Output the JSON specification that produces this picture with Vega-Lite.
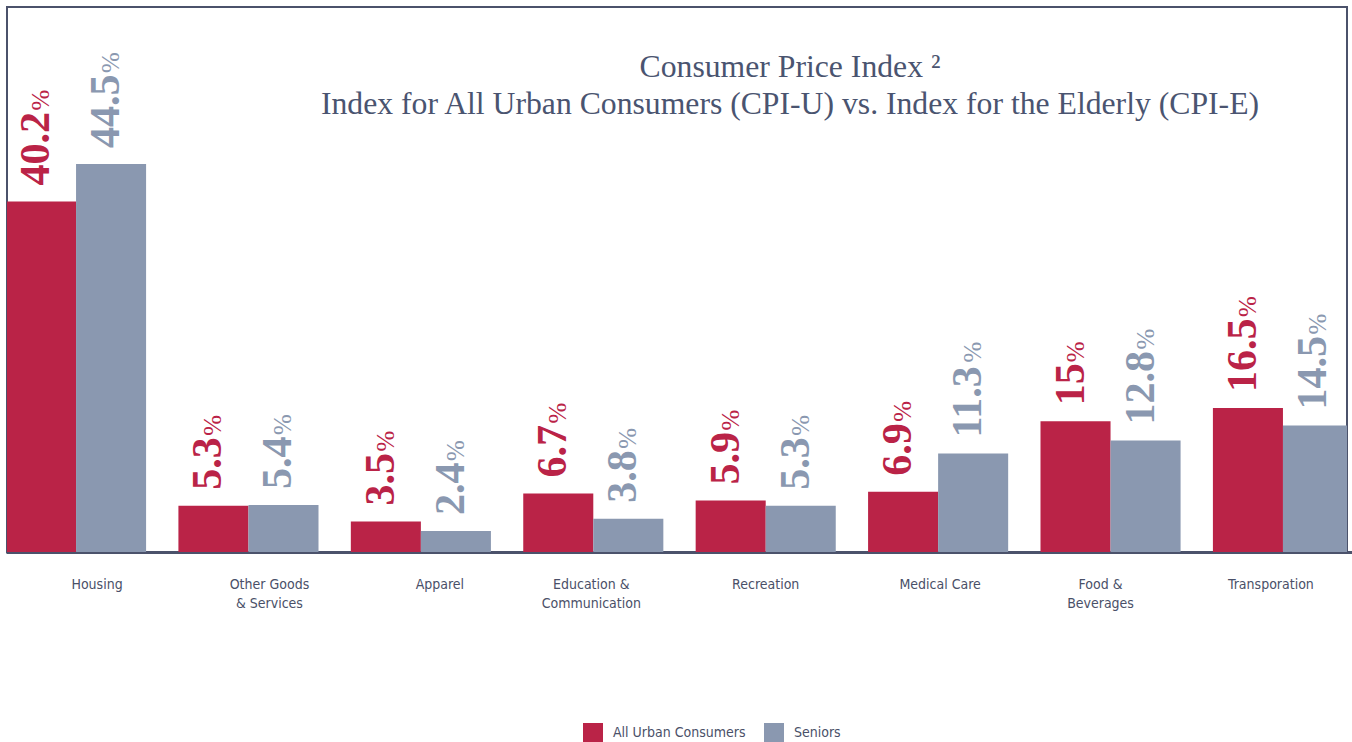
{
  "$schema": "https://vega.github.io/schema/vega-lite/v6.json",
  "width": 1340,
  "height": 545,
  "autosize": {"type": "none"},
  "padding": {"left": 7, "top": 7, "right": 5, "bottom": 190},
  "background": "white",
  "config": {"view": {"stroke": "#4b526b", "strokeWidth": 2}},
  "title": {
    "text": ["Consumer Price Index ²", "Index for All Urban Consumers (CPI-U) vs. Index for the Elderly (CPI-E)"],
    "font": "Liberation Serif",
    "fontSize": 31.7,
    "fontWeight": "normal",
    "color": "#4a5470",
    "anchor": "middle",
    "frame": "group",
    "offset": 0,
    "baseline": "alphabetic",
    "lineHeight": 37,
    "dx": 113,
    "dy": 139
  },
  "data": {"values": [
    {"category": "Housing", "series": "All Urban Consumers", "value": 40.2},
    {"category": "Housing", "series": "Seniors", "value": 44.5},
    {"category": "Other Goods|& Services", "series": "All Urban Consumers", "value": 5.3},
    {"category": "Other Goods|& Services", "series": "Seniors", "value": 5.4},
    {"category": "Apparel", "series": "All Urban Consumers", "value": 3.5},
    {"category": "Apparel", "series": "Seniors", "value": 2.4},
    {"category": "Education &|Communication", "series": "All Urban Consumers", "value": 6.7},
    {"category": "Education &|Communication", "series": "Seniors", "value": 3.8},
    {"category": "Recreation", "series": "All Urban Consumers", "value": 5.9},
    {"category": "Recreation", "series": "Seniors", "value": 5.3},
    {"category": "Medical Care", "series": "All Urban Consumers", "value": 6.9},
    {"category": "Medical Care", "series": "Seniors", "value": 11.3},
    {"category": "Food &|Beverages", "series": "All Urban Consumers", "value": 15},
    {"category": "Food &|Beverages", "series": "Seniors", "value": 12.8},
    {"category": "Transporation", "series": "All Urban Consumers", "value": 16.5},
    {"category": "Transporation", "series": "Seniors", "value": 14.5}
  ]},
  "encoding": {
    "x": {
      "field": "category",
      "type": "nominal",
      "sort": ["Housing", "Other Goods|& Services", "Apparel", "Education &|Communication", "Recreation", "Medical Care", "Food &|Beverages", "Transporation"],
      "scale": {"range": [-1, 1346], "paddingInner": 0.1875, "paddingOuter": 0},
      "title": null,
      "axis": {
        "labelExpr": "split(datum.label, '|')",
        "labelAngle": 0,
        "labelFont": "Liberation Sans Narrow, DejaVu Sans Condensed, sans-serif",
        "labelFontSize": 14,
        "labelColor": "#4a5068",
        "labelLineHeight": 19,
        "labelBaseline": "top",
        "labelPadding": 25,
        "labelOffset": {
          "condition": [
            {"test": "datum.value == 'Housing'", "value": 21},
            {"test": "datum.value == 'Other Goods|& Services'", "value": 21},
            {"test": "datum.value == 'Apparel'", "value": 19},
            {"test": "datum.value == 'Education &|Communication'", "value": -2},
            {"test": "datum.value == 'Medical Care'", "value": 2},
            {"test": "datum.value == 'Food &|Beverages'", "value": -10},
            {"test": "datum.value == 'Transporation'", "value": -12}
          ],
          "value": 0
        },
        "ticks": false,
        "grid": false,
        "domain": true,
        "domainColor": "#4b526b",
        "domainWidth": 3
      }
    },
    "xOffset": {
      "field": "series",
      "type": "nominal",
      "sort": ["All Urban Consumers", "Seniors"],
      "scale": {"paddingInner": 0, "paddingOuter": 0}
    },
    "y": {"field": "value", "type": "quantitative", "scale": {"domain": [0, 62.5]}, "axis": null},
    "color": {
      "field": "series",
      "type": "nominal",
      "sort": ["All Urban Consumers", "Seniors"],
      "scale": {"domain": ["All Urban Consumers", "Seniors"], "range": ["#ba2347", "#8a98b0"]},
      "legend": {
        "title": null,
        "orient": "none",
        "direction": "horizontal",
        "legendX": 576,
        "legendY": 716,
        "padding": 0,
        "symbolType": "square",
        "symbolSize": 400,
        "symbolStrokeWidth": 0,
        "symbolOpacity": 1,
        "labelFont": "Liberation Sans Narrow, DejaVu Sans Condensed, sans-serif",
        "labelFontSize": 14,
        "labelColor": "#4a5068",
        "labelOffset": 10,
        "columnPadding": 18
      }
    }
  },
  "layer": [
    {"mark": {"type": "bar", "clip": true}},
    {
      "mark": {"type": "text", "angle": 270, "align": "left", "baseline": "alphabetic", "dx": 16, "dy": 8, "font": "Liberation Serif", "fontWeight": "bold", "fontSize": 42},
      "encoding": {"text": {"field": "value", "type": "nominal"}}
    },
    {
      "transform": [{"filter": "datum.value >= 10 && datum.value != 15"}],
      "mark": {"type": "text", "text": "%", "angle": 270, "align": "left", "baseline": "alphabetic", "dx": 91, "dy": 8, "font": "Liberation Serif", "fontSize": 25}
    },
    {
      "transform": [{"filter": "datum.value < 10"}],
      "mark": {"type": "text", "text": "%", "angle": 270, "align": "left", "baseline": "alphabetic", "dx": 70, "dy": 8, "font": "Liberation Serif", "fontSize": 25}
    },
    {
      "transform": [{"filter": "datum.value == 15"}],
      "mark": {"type": "text", "text": "%", "angle": 270, "align": "left", "baseline": "alphabetic", "dx": 59, "dy": 8, "font": "Liberation Serif", "fontSize": 25}
    }
  ]
}
